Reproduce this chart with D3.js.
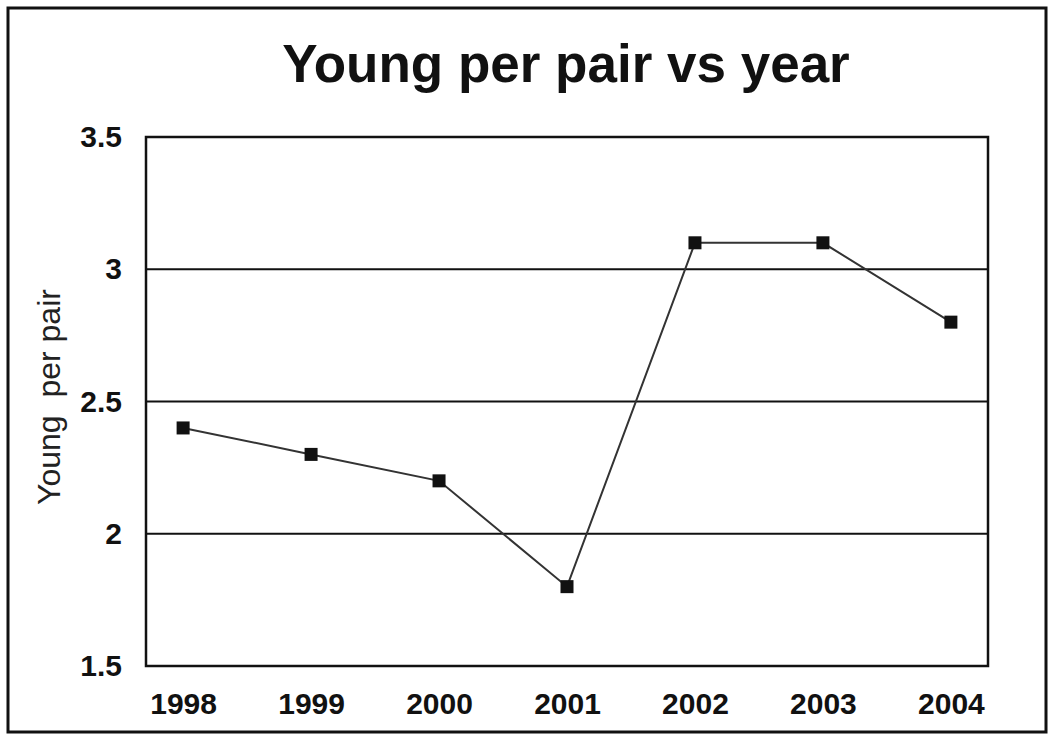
<!DOCTYPE html>
<html>
<head>
<meta charset="utf-8">
<script src="https://cdn.jsdelivr.net/npm/d3@7"></script>
<style>
  body { margin: 0; background: #fff; }
  svg { display: block; }
</style>
</head>
<body>
<svg id="chart" width="1051" height="735"></svg>
<script>
// Breeding success by year
const years = ["1998", "1999", "2000", "2001", "2002", "2003", "2004"];
const youngPerPair = [2.4, 2.3, 2.2, 1.8, 3.1, 3.1, 2.8];
const yTicks = [1.5, 2, 2.5, 3, 3.5];
const gridValues = [2, 2.5, 3];

const svg = d3.select("#chart");
const plot = { left: 146, top: 137, right: 988, bottom: 666 };
const font = "'Liberation Sans', Arial, sans-serif";

// outer frame
svg.append("rect")
  .attr("x", 8).attr("y", 8)
  .attr("width", 1038).attr("height", 724)
  .attr("fill", "#fff")
  .attr("stroke", "#111").attr("stroke-width", 3);

const x = d3.scalePoint()
  .domain(years)
  .range([plot.left, plot.right])
  .padding(0.29);

const y = d3.scaleLinear()
  .domain([1.5, 3.5])
  .range([plot.bottom, plot.top]);

// title
svg.append("text")
  .attr("x", 566).attr("y", 82)
  .attr("text-anchor", "middle")
  .attr("font-family", font)
  .attr("font-weight", "bold")
  .attr("font-size", 53)
  .attr("fill", "#111")
  .text("Young per pair vs year");

// gridlines
svg.append("g")
  .selectAll("line")
  .data(gridValues)
  .join("line")
  .attr("x1", plot.left).attr("x2", plot.right)
  .attr("y1", d => y(d)).attr("y2", d => y(d))
  .attr("stroke", "#111").attr("stroke-width", 2);

// plot frame
svg.append("rect")
  .attr("x", plot.left).attr("y", plot.top)
  .attr("width", plot.right - plot.left)
  .attr("height", plot.bottom - plot.top)
  .attr("fill", "none")
  .attr("stroke", "#111").attr("stroke-width", 2.5);

// y axis labels
const yAxis = d3.axisLeft(y)
  .tickValues(yTicks)
  .tickFormat(d3.format("~g"))
  .tickSize(0)
  .tickPadding(24);
const yg = svg.append("g")
  .attr("transform", `translate(${plot.left},0)`)
  .call(yAxis);
yg.select(".domain").remove();
yg.selectAll("text")
  .attr("font-family", font)
  .attr("font-weight", "bold")
  .attr("font-size", 30)
  .attr("fill", "#111");

// x axis labels
const xAxis = d3.axisBottom(x)
  .tickSize(0)
  .tickPadding(27);
const xg = svg.append("g")
  .attr("transform", `translate(0,${plot.bottom})`)
  .call(xAxis);
xg.select(".domain").remove();
xg.selectAll("text")
  .attr("font-family", font)
  .attr("font-weight", "bold")
  .attr("font-size", 30)
  .attr("fill", "#111");

// y axis title
svg.append("text")
  .attr("transform", "translate(60,397) rotate(-90)")
  .attr("text-anchor", "middle")
  .attr("font-family", font)
  .attr("font-size", 32)
  .attr("fill", "#222")
  .attr("xml:space", "preserve")
  .text("Young  per pair");

// series line
const line = d3.line()
  .x((d, i) => x(years[i]))
  .y(d => y(d));

svg.append("path")
  .datum(youngPerPair)
  .attr("d", line)
  .attr("fill", "none")
  .attr("stroke", "#333")
  .attr("stroke-width", 2);

// square markers
const m = 13;
svg.append("g")
  .selectAll("rect")
  .data(youngPerPair)
  .join("rect")
  .attr("x", (d, i) => x(years[i]) - m / 2)
  .attr("y", d => y(d) - m / 2)
  .attr("width", m).attr("height", m)
  .attr("fill", "#111");
</script>
</body>
</html>
